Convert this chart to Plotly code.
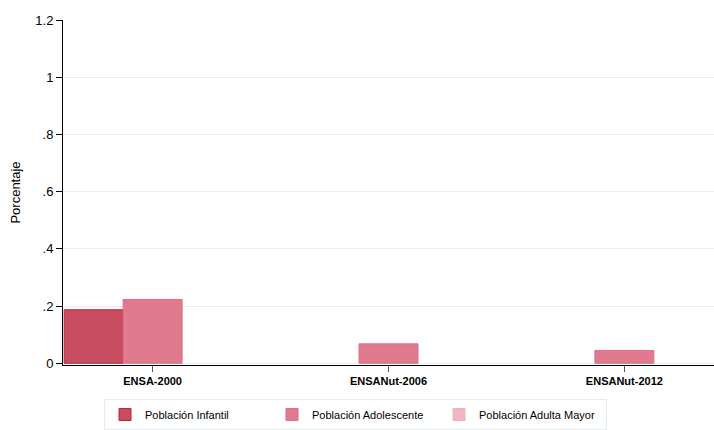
import plotly.graph_objects as go

categories = ["ENSA-2000", "ENSANut-2006", "ENSANut-2012"]
infantil = [0.187, None, None]
adolescente = [0.223, 0.068, 0.045]
adulta_mayor = [None, None, None]
series_names = ["Población Infantil", "Población Adolescente", "Población Adulta Mayor"]
fills = ["#c84d60", "#e07a8e", "#f0b7c2"]
lines = ["#b8233c", "#e46c84", "#f0aebb"]

y_ticks = [0, 0.2, 0.4, 0.6, 0.8, 1.0, 1.2]
y_ticklabels = ["0", ".2", ".4", ".6", ".8", "1", "1.2"]

fig = go.Figure()
for name, vals, fc, lc in zip(series_names, [infantil, adolescente, adulta_mayor], fills, lines):
    fig.add_trace(go.Bar(x=categories, y=vals, name=name,
                         marker=dict(color=fc, line=dict(color=lc, width=1))))

fig.update_layout(
    width=714, height=430,
    margin=dict(l=63, r=0, t=20, b=65),
    paper_bgcolor="white", plot_bgcolor="white",
    barmode="group", bargap=0.25, bargroupgap=0,
    font=dict(family="Liberation Sans, Arial, sans-serif", size=12, color="#000"),
    showlegend=True,
    legend=dict(orientation="h", x=0.063, xanchor="left",
                yref="container", y=0.072, yanchor="top",
                bordercolor="#e3ecee", borderwidth=1,
                font=dict(size=11), entrywidth=122, itemwidth=30,
                traceorder="normal"),
    xaxis=dict(range=[-0.38, 2.38], showline=True, linecolor="#000", linewidth=1,
               ticks="outside", ticklen=6, tickcolor="#555", automargin=False,
               tickfont=dict(size=11, family="Liberation Sans, Arial, sans-serif", weight="bold"),
               showgrid=False, zeroline=False),
    yaxis=dict(range=[-0.006, 1.2], tickvals=y_ticks, ticktext=y_ticklabels,
               showline=True, linecolor="#000", linewidth=1, automargin=False,
               ticks="outside", ticklen=6, tickcolor="#000",
               tickfont=dict(size=13),
               showgrid=True, gridcolor="#eaf1f3", gridwidth=1, zeroline=False,
               title=dict(text="Porcentaje", font=dict(size=13), standoff=11)),
)

fig.write_html("out.html", config={"displayModeBar": False},
               post_script="document.body.style.margin='0';")
